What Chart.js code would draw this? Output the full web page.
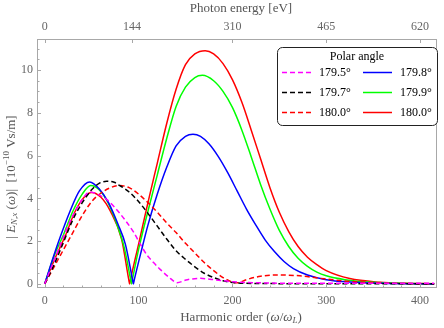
<!DOCTYPE html>
<html>
<head>
<meta charset="utf-8">
<script src="https://cdn.jsdelivr.net/npm/chart.js@4.4.1/dist/chart.umd.min.js"></script>
<style>
  html, body { margin: 0; background: #fff; }
  #wrap { width: 444px; height: 328px; }
</style>
</head>
<body>
<div id="wrap"><canvas id="c"></canvas></div>
<script>
const C = {
  mag: '#ff00ff', blk: '#000000', red: '#ff0000', blue: '#0000ff', green: '#00ff00',
  frame: '#a8a8a8', tick: '#666666', title: '#555555',
};
const SERIF = '"Liberation Serif", "DejaVu Serif", serif';

// harmonic order (x) and |E| values (y)
const h795 = [0, 10, 20, 30, 40, 48, 56, 66, 80, 95, 102, 109, 116, 123, 132, 141, 152, 166, 180, 201, 230, 270, 330, 415];
const v795 = [0, 1.1, 2.2, 3.2, 3.95, 4.3, 4.2, 3.95, 3.3, 2.4, 1.85, 1.35, 1.0, 0.68, 0.33, 0.06, 0.2, 0.26, 0.2, 0.1, 0.05, 0.03, 0.03, 0.03];

const h797 = [0, 10, 20, 30, 40, 50, 58, 66, 74, 80, 90, 100, 110, 120, 130, 140, 150, 160, 170, 180, 190, 205, 230, 300, 415];
const v797 = [0, 0.9, 1.95, 3.0, 3.8, 4.4, 4.7, 4.8, 4.75, 4.6, 4.3, 3.85, 3.3, 2.7, 2.1, 1.55, 1.15, 0.8, 0.5, 0.3, 0.15, 0.05, 0.02, 0.01, 0.01];

const h800d = [0, 10, 20, 30, 40, 50, 60, 70, 80, 90, 100, 110, 120, 130, 140, 150, 160, 170, 180, 190, 198, 205, 215, 230, 248, 272, 294, 322, 350, 380, 415];
const v800d = [0, 0.8, 1.6, 2.4, 3.2, 3.85, 4.25, 4.5, 4.6, 4.5, 4.2, 3.8, 3.35, 2.85, 2.4, 1.9, 1.45, 1.0, 0.62, 0.3, 0.12, 0.05, 0.2, 0.36, 0.42, 0.38, 0.26, 0.13, 0.06, 0.02, 0.01];

const h798 = [0, 8, 17, 27, 37, 48, 58, 68, 78, 86, 93.5, 94.5, 95.5, 103, 110, 120, 130, 140, 150, 158, 166, 175, 185, 195, 205, 215, 225, 235, 245, 255, 265, 280, 300, 325, 360, 415];
const v798 = [0, 1.1, 2.25, 3.4, 4.35, 4.77, 4.45, 3.8, 2.8, 1.85, 0.22, 0, 0.2, 1.55, 2.75, 4.2, 5.45, 6.45, 6.9, 7.0, 6.9, 6.55, 5.95, 5.2, 4.35, 3.5, 2.75, 2.05, 1.5, 1.05, 0.72, 0.42, 0.2, 0.09, 0.03, 0];

const h799 = [0, 10, 20, 30, 40, 49, 58, 68, 78, 85, 91.5, 92.5, 93.5, 100, 110, 120, 130, 140, 150, 160, 168, 180, 190, 200, 210, 220, 230, 240, 250, 260, 270, 280, 290, 300, 320, 340, 360, 390, 415];
const v799 = [0, 1.3, 2.3, 3.4, 4.2, 4.6, 4.4, 3.75, 2.65, 1.65, 0.22, 0, 0.22, 1.6, 3.4, 5.1, 6.8, 8.3, 9.2, 9.65, 9.75, 9.5, 9.0, 8.25, 7.2, 5.95, 4.65, 3.5, 2.5, 1.75, 1.2, 0.82, 0.55, 0.38, 0.2, 0.1, 0.05, 0.02, 0.01];

const h800s = [0, 10, 22, 32, 42, 50, 60, 70, 82, 89.5, 90.5, 91.5, 100, 110, 120, 130, 140, 150, 160, 171, 180, 190, 200, 210, 220, 230, 240, 250, 260, 270, 280, 290, 300, 325, 357, 385, 415];
const v800s = [0, 1.1, 2.25, 3.35, 4.05, 4.28, 4.05, 3.4, 2.09, 0.22, 0, 0.22, 1.85, 3.8, 5.65, 7.5, 9.1, 10.25, 10.75, 10.9, 10.75, 10.3, 9.55, 8.5, 7.2, 5.85, 4.5, 3.35, 2.45, 1.75, 1.25, 0.9, 0.62, 0.25, 0.08, 0.03, 0.01];

// top axis: photon energy ticks (eV), 1.55 eV per harmonic
const energyTicks = [0, 144, 310, 465, 620];
const eVperHarmonic = 1.55;

const pts = (hs, vs) => hs.map((x, i) => ({ x, y: vs[i] }));
const ds = (label, hs, vs, color, dashed) => ({
  label, data: pts(hs, vs), borderColor: color, backgroundColor: color,
  borderWidth: 1.5, borderDash: dashed ? [5, 3] : [], pointRadius: 0,
  cubicInterpolationMode: 'monotone', fill: false,
});

const datasets = [
  ds('179.5°', h795, v795, C.mag, true),
  ds('179.7°', h797, v797, C.blk, true),
  ds('180.0°', h800d, v800d, C.red, true),
  ds('179.8°', h798, v798, C.blue, false),
  ds('179.9°', h799, v799, C.green, false),
  ds('180.0°', h800s, v800s, C.red, false),
];

/* text runs with italics / sub- and superscripts */
function drawRuns(ctx, runs, cx, cy, size) {
  const fontOf = r => `${r.it ? 'italic ' : ''}${r.small ? Math.round(size * 0.72) : size}px ${SERIF}`;
  let w = 0;
  runs.forEach(r => { ctx.font = fontOf(r); r.w = ctx.measureText(r.t).width; w += r.w; });
  let x = cx - w / 2;
  ctx.textBaseline = 'middle';
  ctx.textAlign = 'left';
  runs.forEach(r => { ctx.font = fontOf(r); ctx.fillText(r.t, x, cy + (r.dy || 0)); x += r.w; });
}

const framePlugin = {
  id: 'frame',
  afterDraw(chart) {
    const { ctx, chartArea: a, scales: { x, y, x2 } } = chart;
    ctx.save();
    ctx.strokeStyle = C.frame;
    ctx.lineWidth = 1;
    ctx.strokeRect(a.left + 0.5, a.top + 0.5, a.right - a.left - 1, a.bottom - a.top - 1);
    ctx.beginPath();
    for (let v = 0; v <= 400; v += 20) {
      const px = Math.round(x.getPixelForValue(v)) + 0.5, len = v % 100 === 0 ? 4 : 2.5;
      ctx.moveTo(px, a.bottom); ctx.lineTo(px, a.bottom - len);
    }
    for (let v = 0; v <= 11; v += 0.5) {
      const py = Math.round(y.getPixelForValue(v)) + 0.5, len = v % 2 === 0 ? 4 : 2.5;
      ctx.moveTo(a.left, py); ctx.lineTo(a.left + len, py);
    }
    energyTicks.forEach(e => {
      const px = Math.round(x2.getPixelForValue(e / eVperHarmonic)) + 0.5;
      ctx.moveTo(px, a.top); ctx.lineTo(px, a.top + 4);
    });
    ctx.stroke();

    // axis titles
    ctx.fillStyle = C.title;
    const cx = (a.left + a.right) / 2 + 4;
    drawRuns(ctx, [{ t: 'Photon energy [eV]' }], cx, 9, 13);
    drawRuns(ctx, [
      { t: 'Harmonic order (' }, { t: 'ω', it: true }, { t: '/' }, { t: 'ω', it: true },
      { t: 'L', it: true, small: true, dy: 3 }, { t: ')' },
    ], cx, 318, 13);
    ctx.translate(12, 177);
    ctx.rotate(-Math.PI / 2);
    drawRuns(ctx, [
      { t: '| ' }, { t: 'E', it: true }, { t: 'N,x', it: true, small: true, dy: 3 },
      { t: ' (' }, { t: 'ω', it: true }, { t: ')|  [10' }, { t: '−10', small: true, dy: -5 },
      { t: ' Vs/m]' },
    ], 0, 0, 13);
    ctx.restore();
  },
};

const legendPlugin = {
  id: 'boxLegend',
  afterDraw(chart) {
    const { ctx } = chart;
    const bx = 277, by = 47, bw = 160, bh = 78;
    ctx.save();
    ctx.fillStyle = '#fff';
    ctx.strokeStyle = '#222';
    ctx.lineWidth = 1;
    ctx.beginPath();
    ctx.roundRect(bx + 0.5, by + 0.5, bw, bh, 5);
    ctx.fill(); ctx.stroke();
    ctx.fillStyle = '#000';
    ctx.font = `12px ${SERIF}`;
    ctx.textAlign = 'center';
    ctx.textBaseline = 'middle';
    ctx.fillText('Polar angle', bx + bw / 2, by + 10);
    ctx.textAlign = 'left';
    chart.data.datasets.forEach((d, i) => {
      const col = Math.floor(i / 3), row = i % 3;
      const lx = col ? 363 : 282, ty = 72.5 + row * 20;
      ctx.strokeStyle = d.borderColor;
      ctx.lineWidth = 1.5;
      ctx.setLineDash(d.borderDash);
      ctx.beginPath(); ctx.moveTo(lx, ty); ctx.lineTo(lx + 29, ty); ctx.stroke();
      ctx.setLineDash([]);
      ctx.fillStyle = '#000';
      ctx.fillText(d.label, lx + 37, ty);
    });
    ctx.restore();
  },
};

const tickFont = { family: SERIF, size: 12 };

new Chart(document.getElementById('c'), {
  type: 'line',
  data: { datasets },
  options: {
    responsive: true, maintainAspectRatio: false, animation: false,
    layout: { padding: { left: 0, right: 7, top: 0, bottom: 0 } },
    plugins: { legend: { display: false }, tooltip: { enabled: false } },
    scales: {
      x: {
        type: 'linear', position: 'bottom', min: -8.2, max: 418,
        grid: { display: false, drawTicks: false }, border: { display: false },
        ticks: {
          stepSize: 100, includeBounds: false, autoSkip: false, maxRotation: 0,
          padding: 6, color: C.tick, font: tickFont,
        },
        afterFit: s => { s.height = 40; },
      },
      x2: {
        type: 'linear', position: 'top', min: -8.2, max: 418,
        grid: { display: false, drawTicks: false }, border: { display: false },
        afterBuildTicks: s => { s.ticks = energyTicks.map(e => ({ value: e / eVperHarmonic })); },
        ticks: {
          autoSkip: false, maxRotation: 0, padding: 5, color: C.tick, font: tickFont,
          callback: (v, i) => energyTicks[i],
        },
        afterFit: s => { s.height = 39; },
      },
      y: {
        min: -0.19, max: 11.45,
        grid: { display: false, drawTicks: false }, border: { display: false },
        ticks: { stepSize: 2, includeBounds: false, padding: 4, color: C.tick, font: tickFont },
        afterFit: s => { s.width = 37; },
      },
    },
  },
  plugins: [framePlugin, legendPlugin],
});
</script>
</body>
</html>
